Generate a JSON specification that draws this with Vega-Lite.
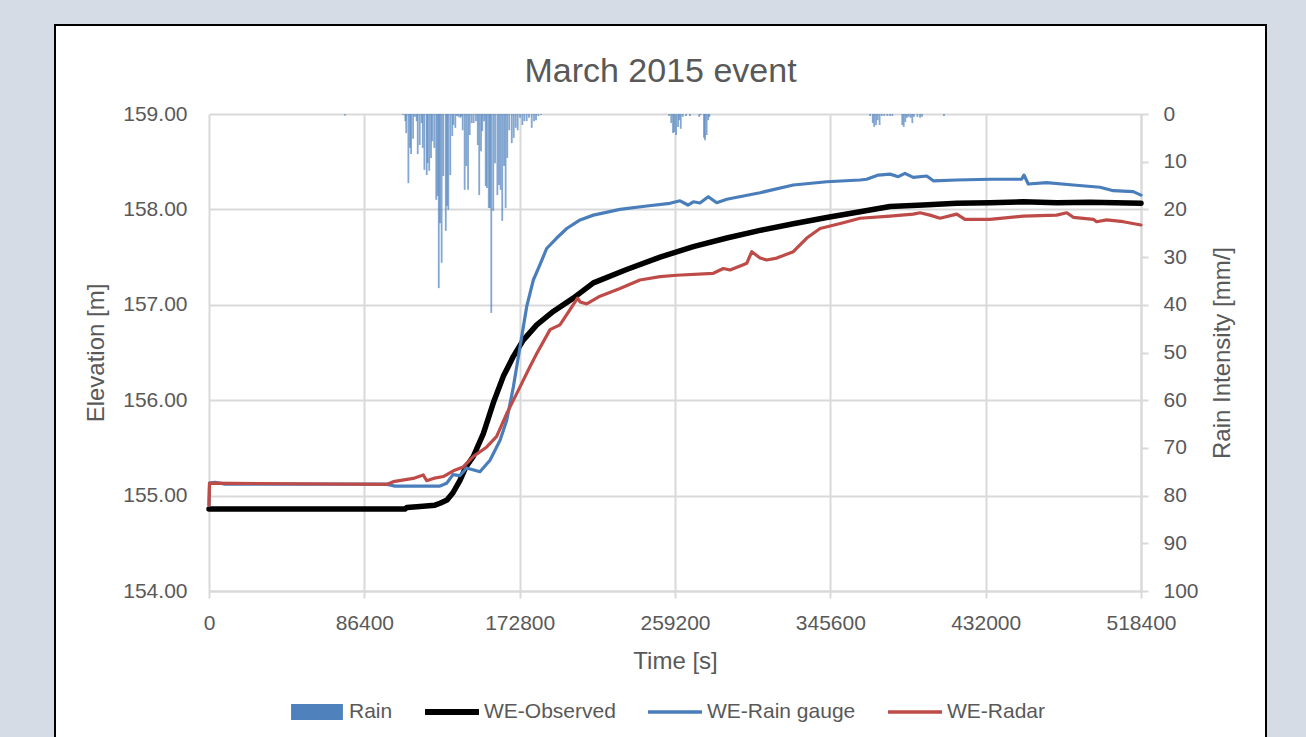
{
  "$schema": "https://vega.github.io/schema/vega-lite/v6.json",
  "width": 1211,
  "height": 712,
  "autosize": {"type": "none"},
  "padding": {"left": 55, "top": 25, "right": 40, "bottom": 0},
  "background": "#D6DCE5",
  "title": {"text": "March 2015 event", "fontSize": 34, "fontWeight": "normal", "color": "#595959", "font": "Liberation Sans", "anchor": "middle", "baseline": "alphabetic", "offset": -91, "frame": "group"},
  "datasets": {
    "lines": [
      {"t": 0, "elev": 154.86, "series": "WE-Observed"},
      {"t": 109000, "elev": 154.86, "series": "WE-Observed"},
      {"t": 110100, "elev": 154.875, "series": "WE-Observed"},
      {"t": 117400, "elev": 154.886, "series": "WE-Observed"},
      {"t": 125700, "elev": 154.9, "series": "WE-Observed"},
      {"t": 128500, "elev": 154.92, "series": "WE-Observed"},
      {"t": 132400, "elev": 154.954, "series": "WE-Observed"},
      {"t": 135700, "elev": 155.03, "series": "WE-Observed"},
      {"t": 139600, "elev": 155.16, "series": "WE-Observed"},
      {"t": 142900, "elev": 155.3, "series": "WE-Observed"},
      {"t": 147000, "elev": 155.41, "series": "WE-Observed"},
      {"t": 152600, "elev": 155.65, "series": "WE-Observed"},
      {"t": 158100, "elev": 155.97, "series": "WE-Observed"},
      {"t": 163700, "elev": 156.25, "series": "WE-Observed"},
      {"t": 169300, "elev": 156.46, "series": "WE-Observed"},
      {"t": 174800, "elev": 156.63, "series": "WE-Observed"},
      {"t": 182300, "elev": 156.79, "series": "WE-Observed"},
      {"t": 191500, "elev": 156.93, "series": "WE-Observed"},
      {"t": 202600, "elev": 157.07, "series": "WE-Observed"},
      {"t": 213800, "elev": 157.23, "series": "WE-Observed"},
      {"t": 232300, "elev": 157.37, "series": "WE-Observed"},
      {"t": 250900, "elev": 157.5, "series": "WE-Observed"},
      {"t": 269400, "elev": 157.61, "series": "WE-Observed"},
      {"t": 288000, "elev": 157.7, "series": "WE-Observed"},
      {"t": 306500, "elev": 157.78, "series": "WE-Observed"},
      {"t": 325000, "elev": 157.85, "series": "WE-Observed"},
      {"t": 343600, "elev": 157.915, "series": "WE-Observed"},
      {"t": 362100, "elev": 157.975, "series": "WE-Observed"},
      {"t": 378800, "elev": 158.03, "series": "WE-Observed"},
      {"t": 397300, "elev": 158.046, "series": "WE-Observed"},
      {"t": 415900, "elev": 158.064, "series": "WE-Observed"},
      {"t": 434400, "elev": 158.07, "series": "WE-Observed"},
      {"t": 452800, "elev": 158.08, "series": "WE-Observed"},
      {"t": 471700, "elev": 158.07, "series": "WE-Observed"},
      {"t": 490000, "elev": 158.074, "series": "WE-Observed"},
      {"t": 518400, "elev": 158.064, "series": "WE-Observed"},

      {"t": 0, "elev": 154.9, "series": "WE-Rain gauge"},
      {"t": 300, "elev": 155.13, "series": "WE-Rain gauge"},
      {"t": 3300, "elev": 155.14, "series": "WE-Rain gauge"},
      {"t": 8900, "elev": 155.12, "series": "WE-Rain gauge"},
      {"t": 30000, "elev": 155.12, "series": "WE-Rain gauge"},
      {"t": 98500, "elev": 155.12, "series": "WE-Rain gauge"},
      {"t": 103500, "elev": 155.1, "series": "WE-Rain gauge"},
      {"t": 128500, "elev": 155.1, "series": "WE-Rain gauge"},
      {"t": 132200, "elev": 155.13, "series": "WE-Rain gauge"},
      {"t": 135700, "elev": 155.22, "series": "WE-Rain gauge"},
      {"t": 139600, "elev": 155.21, "series": "WE-Rain gauge"},
      {"t": 143300, "elev": 155.29, "series": "WE-Rain gauge"},
      {"t": 150700, "elev": 155.25, "series": "WE-Rain gauge"},
      {"t": 156300, "elev": 155.37, "series": "WE-Rain gauge"},
      {"t": 161900, "elev": 155.58, "series": "WE-Rain gauge"},
      {"t": 165600, "elev": 155.79, "series": "WE-Rain gauge"},
      {"t": 169300, "elev": 156.14, "series": "WE-Rain gauge"},
      {"t": 173000, "elev": 156.56, "series": "WE-Rain gauge"},
      {"t": 176700, "elev": 156.98, "series": "WE-Rain gauge"},
      {"t": 180400, "elev": 157.26, "series": "WE-Rain gauge"},
      {"t": 184100, "elev": 157.42, "series": "WE-Rain gauge"},
      {"t": 187800, "elev": 157.59, "series": "WE-Rain gauge"},
      {"t": 193400, "elev": 157.7, "series": "WE-Rain gauge"},
      {"t": 199000, "elev": 157.8, "series": "WE-Rain gauge"},
      {"t": 206400, "elev": 157.89, "series": "WE-Rain gauge"},
      {"t": 213800, "elev": 157.94, "series": "WE-Rain gauge"},
      {"t": 228600, "elev": 158.0, "series": "WE-Rain gauge"},
      {"t": 243500, "elev": 158.036, "series": "WE-Rain gauge"},
      {"t": 256400, "elev": 158.064, "series": "WE-Rain gauge"},
      {"t": 262000, "elev": 158.09, "series": "WE-Rain gauge"},
      {"t": 266400, "elev": 158.046, "series": "WE-Rain gauge"},
      {"t": 269400, "elev": 158.08, "series": "WE-Rain gauge"},
      {"t": 273100, "elev": 158.067, "series": "WE-Rain gauge"},
      {"t": 277700, "elev": 158.133, "series": "WE-Rain gauge"},
      {"t": 282400, "elev": 158.07, "series": "WE-Rain gauge"},
      {"t": 288000, "elev": 158.106, "series": "WE-Rain gauge"},
      {"t": 306500, "elev": 158.175, "series": "WE-Rain gauge"},
      {"t": 325000, "elev": 158.256, "series": "WE-Rain gauge"},
      {"t": 343600, "elev": 158.29, "series": "WE-Rain gauge"},
      {"t": 362100, "elev": 158.308, "series": "WE-Rain gauge"},
      {"t": 365800, "elev": 158.316, "series": "WE-Rain gauge"},
      {"t": 372300, "elev": 158.36, "series": "WE-Rain gauge"},
      {"t": 378800, "elev": 158.37, "series": "WE-Rain gauge"},
      {"t": 383400, "elev": 158.343, "series": "WE-Rain gauge"},
      {"t": 387100, "elev": 158.378, "series": "WE-Rain gauge"},
      {"t": 391700, "elev": 158.336, "series": "WE-Rain gauge"},
      {"t": 399200, "elev": 158.35, "series": "WE-Rain gauge"},
      {"t": 402900, "elev": 158.3, "series": "WE-Rain gauge"},
      {"t": 415900, "elev": 158.308, "series": "WE-Rain gauge"},
      {"t": 434400, "elev": 158.316, "series": "WE-Rain gauge"},
      {"t": 452000, "elev": 158.316, "series": "WE-Rain gauge"},
      {"t": 453300, "elev": 158.36, "series": "WE-Rain gauge"},
      {"t": 455700, "elev": 158.266, "series": "WE-Rain gauge"},
      {"t": 465900, "elev": 158.28, "series": "WE-Rain gauge"},
      {"t": 480700, "elev": 158.256, "series": "WE-Rain gauge"},
      {"t": 495600, "elev": 158.232, "series": "WE-Rain gauge"},
      {"t": 503000, "elev": 158.196, "series": "WE-Rain gauge"},
      {"t": 514100, "elev": 158.186, "series": "WE-Rain gauge"},
      {"t": 518400, "elev": 158.15, "series": "WE-Rain gauge"},

      {"t": 0, "elev": 154.9, "series": "WE-Radar"},
      {"t": 300, "elev": 155.13, "series": "WE-Radar"},
      {"t": 98800, "elev": 155.117, "series": "WE-Radar"},
      {"t": 102500, "elev": 155.146, "series": "WE-Radar"},
      {"t": 113600, "elev": 155.18, "series": "WE-Radar"},
      {"t": 119200, "elev": 155.216, "series": "WE-Radar"},
      {"t": 121100, "elev": 155.156, "series": "WE-Radar"},
      {"t": 124800, "elev": 155.18, "series": "WE-Radar"},
      {"t": 130300, "elev": 155.2, "series": "WE-Radar"},
      {"t": 135900, "elev": 155.26, "series": "WE-Radar"},
      {"t": 141400, "elev": 155.3, "series": "WE-Radar"},
      {"t": 147000, "elev": 155.41, "series": "WE-Radar"},
      {"t": 154500, "elev": 155.51, "series": "WE-Radar"},
      {"t": 160000, "elev": 155.62, "series": "WE-Radar"},
      {"t": 165600, "elev": 155.86, "series": "WE-Radar"},
      {"t": 173000, "elev": 156.14, "series": "WE-Radar"},
      {"t": 178500, "elev": 156.35, "series": "WE-Radar"},
      {"t": 182300, "elev": 156.49, "series": "WE-Radar"},
      {"t": 189700, "elev": 156.74, "series": "WE-Radar"},
      {"t": 195200, "elev": 156.79, "series": "WE-Radar"},
      {"t": 200800, "elev": 156.95, "series": "WE-Radar"},
      {"t": 205000, "elev": 157.07, "series": "WE-Radar"},
      {"t": 206400, "elev": 157.03, "series": "WE-Radar"},
      {"t": 210100, "elev": 157.01, "series": "WE-Radar"},
      {"t": 217500, "elev": 157.09, "series": "WE-Radar"},
      {"t": 228600, "elev": 157.17, "series": "WE-Radar"},
      {"t": 239700, "elev": 157.26, "series": "WE-Radar"},
      {"t": 250900, "elev": 157.295, "series": "WE-Radar"},
      {"t": 260100, "elev": 157.31, "series": "WE-Radar"},
      {"t": 280500, "elev": 157.33, "series": "WE-Radar"},
      {"t": 286100, "elev": 157.38, "series": "WE-Radar"},
      {"t": 289800, "elev": 157.365, "series": "WE-Radar"},
      {"t": 297200, "elev": 157.42, "series": "WE-Radar"},
      {"t": 299100, "elev": 157.435, "series": "WE-Radar"},
      {"t": 301900, "elev": 157.557, "series": "WE-Radar"},
      {"t": 306500, "elev": 157.49, "series": "WE-Radar"},
      {"t": 310200, "elev": 157.47, "series": "WE-Radar"},
      {"t": 315800, "elev": 157.49, "series": "WE-Radar"},
      {"t": 325000, "elev": 157.557, "series": "WE-Radar"},
      {"t": 332500, "elev": 157.7, "series": "WE-Radar"},
      {"t": 339900, "elev": 157.8, "series": "WE-Radar"},
      {"t": 352800, "elev": 157.86, "series": "WE-Radar"},
      {"t": 362100, "elev": 157.907, "series": "WE-Radar"},
      {"t": 378800, "elev": 157.93, "series": "WE-Radar"},
      {"t": 391700, "elev": 157.95, "series": "WE-Radar"},
      {"t": 395500, "elev": 157.965, "series": "WE-Radar"},
      {"t": 401000, "elev": 157.94, "series": "WE-Radar"},
      {"t": 406600, "elev": 157.907, "series": "WE-Radar"},
      {"t": 415900, "elev": 157.95, "series": "WE-Radar"},
      {"t": 420500, "elev": 157.896, "series": "WE-Radar"},
      {"t": 434400, "elev": 157.896, "series": "WE-Radar"},
      {"t": 452900, "elev": 157.93, "series": "WE-Radar"},
      {"t": 471500, "elev": 157.94, "series": "WE-Radar"},
      {"t": 477100, "elev": 157.965, "series": "WE-Radar"},
      {"t": 480700, "elev": 157.917, "series": "WE-Radar"},
      {"t": 491900, "elev": 157.896, "series": "WE-Radar"},
      {"t": 493700, "elev": 157.871, "series": "WE-Radar"},
      {"t": 499300, "elev": 157.89, "series": "WE-Radar"},
      {"t": 508500, "elev": 157.871, "series": "WE-Radar"},
      {"t": 518400, "elev": 157.837, "series": "WE-Radar"}
    ],
    "rain": [
      {"t": 75600, "rain": 0.3},
      {"t": 108000, "rain": 0.2}, {"t": 109200, "rain": 1.5}, {"t": 109700, "rain": 4.0}, {"t": 110900, "rain": 14.5},
      {"t": 111800, "rain": 7.1}, {"t": 112400, "rain": 8.4}, {"t": 113500, "rain": 5.2}, {"t": 114500, "rain": 0.6},
      {"t": 115500, "rain": 1.5}, {"t": 116100, "rain": 8.4}, {"t": 117200, "rain": 6.5}, {"t": 118300, "rain": 1.9},
      {"t": 118900, "rain": 7.1}, {"t": 119800, "rain": 11.7}, {"t": 121100, "rain": 12.8}, {"t": 121600, "rain": 10.3},
      {"t": 122500, "rain": 11.9}, {"t": 123500, "rain": 9.2}, {"t": 124200, "rain": 5.7}, {"t": 125300, "rain": 7.1},
      {"t": 126400, "rain": 18.0}, {"t": 127200, "rain": 17.2}, {"t": 127800, "rain": 36.5}, {"t": 128500, "rain": 22.9},
      {"t": 129400, "rain": 31.2}, {"t": 130300, "rain": 13.0}, {"t": 131700, "rain": 24.5}, {"t": 132400, "rain": 19.3},
      {"t": 133100, "rain": 20.1}, {"t": 134200, "rain": 12.8}, {"t": 135300, "rain": 4.6}, {"t": 135900, "rain": 2.3},
      {"t": 137000, "rain": 2.9}, {"t": 137900, "rain": 0.4}, {"t": 138800, "rain": 0.6}, {"t": 139800, "rain": 0.8},
      {"t": 140400, "rain": 0.5}, {"t": 141100, "rain": 3.4}, {"t": 142200, "rain": 15.9}, {"t": 143100, "rain": 10.9},
      {"t": 144100, "rain": 15.9}, {"t": 145000, "rain": 4.4}, {"t": 146100, "rain": 1.9}, {"t": 147200, "rain": 1.9},
      {"t": 148500, "rain": 1.5}, {"t": 149500, "rain": 6.5}, {"t": 150300, "rain": 17.0}, {"t": 151300, "rain": 7.8},
      {"t": 152000, "rain": 3.6}, {"t": 153000, "rain": 1.5}, {"t": 153900, "rain": 15.1}, {"t": 154600, "rain": 15.5},
      {"t": 155600, "rain": 19.7}, {"t": 156300, "rain": 19.7}, {"t": 157000, "rain": 41.7}, {"t": 158100, "rain": 20.3},
      {"t": 159100, "rain": 10.3}, {"t": 160400, "rain": 17.0}, {"t": 161300, "rain": 14.9}, {"t": 162200, "rain": 15.9},
      {"t": 163100, "rain": 22.4}, {"t": 164100, "rain": 10.9}, {"t": 165000, "rain": 19.7}, {"t": 165900, "rain": 9.2},
      {"t": 167000, "rain": 3.4}, {"t": 168400, "rain": 6.1}, {"t": 169500, "rain": 5.0}, {"t": 170600, "rain": 2.9},
      {"t": 171700, "rain": 3.4}, {"t": 173000, "rain": 0.8}, {"t": 174300, "rain": 2.3}, {"t": 175400, "rain": 1.5},
      {"t": 176700, "rain": 1.5}, {"t": 178000, "rain": 0.8}, {"t": 179500, "rain": 2.9}, {"t": 180800, "rain": 1.5},
      {"t": 181900, "rain": 1.3}, {"t": 183200, "rain": 0.4}, {"t": 184700, "rain": 0.2},
      {"t": 256000, "rain": 0.4}, {"t": 257100, "rain": 1.9}, {"t": 258100, "rain": 4.0}, {"t": 258800, "rain": 3.8},
      {"t": 259800, "rain": 4.4}, {"t": 260900, "rain": 2.7}, {"t": 261600, "rain": 1.3}, {"t": 262400, "rain": 3.1},
      {"t": 263500, "rain": 0.6}, {"t": 265300, "rain": 0.4}, {"t": 267500, "rain": 0.4}, {"t": 272700, "rain": 0.6},
      {"t": 273500, "rain": 0.2}, {"t": 275300, "rain": 5.0}, {"t": 275900, "rain": 5.5}, {"t": 276800, "rain": 4.4},
      {"t": 277700, "rain": 1.3}, {"t": 278300, "rain": 0.6},
      {"t": 367700, "rain": 0.4}, {"t": 369200, "rain": 1.9}, {"t": 370000, "rain": 2.7}, {"t": 371000, "rain": 2.3},
      {"t": 371900, "rain": 1.3}, {"t": 373000, "rain": 2.3}, {"t": 374200, "rain": 0.4}, {"t": 375600, "rain": 0.4},
      {"t": 377300, "rain": 0.4}, {"t": 378800, "rain": 0.4}, {"t": 380100, "rain": 0.4}, {"t": 385600, "rain": 2.3},
      {"t": 386400, "rain": 2.7}, {"t": 387300, "rain": 1.7}, {"t": 388200, "rain": 0.8}, {"t": 389200, "rain": 0.6},
      {"t": 390300, "rain": 0.8}, {"t": 391200, "rain": 1.9}, {"t": 392100, "rain": 0.6}, {"t": 394000, "rain": 0.6},
      {"t": 395500, "rain": 0.8}, {"t": 396600, "rain": 0.6}, {"t": 408800, "rain": 0.4}
    ]
  },
  "layer": [
    {
      "data": {"name": "lines"},
      "layer": [
        {
          "transform": [{"filter": "datum.series === 'WE-Observed'"}],
          "mark": {"type": "line", "strokeWidth": 5.5, "strokeJoin": "round", "strokeCap": "round"},
          "encoding": {
            "x": {
              "field": "t", "type": "quantitative",
              "scale": {"domain": [0, 518400], "range": [154, 1086], "nice": false, "zero": false, "padding": 0},
              "axis": {
                "orient": "bottom",
                "values": [0, 86400, 172800, 259200, 345600, 432000, 518400],
                "format": "d", "title": "Time [s]", "offset": -146,
                "grid": false, "domain": true, "ticks": true, "tickSize": 7,
                "labelPadding": 14, "labelFlush": false,
                "titleX": 620, "titleY": 70, "titleAlign": "center", "titleBaseline": "middle"
              }
            },
            "y": {
              "field": "elev", "type": "quantitative",
              "scale": {"domain": [154, 159], "range": [566, 89], "nice": false, "zero": false},
              "axis": {
                "orient": "left", "values": [154, 155, 156, 157, 158, 159], "format": ".2f",
                "title": "Elevation [m]", "offset": -154, "grid": true, "domain": false,
                "ticks": false, "tickSize": 0, "labelPadding": 22, "labelFlush": false,
                "titleX": -113, "titleY": 327.5, "titleAngle": -90, "titleAlign": "center", "titleBaseline": "middle"
              }
            },
            "color": {
              "field": "series", "type": "nominal",
              "scale": {"domain": ["Rain", "WE-Observed", "WE-Rain gauge", "WE-Radar"], "range": ["#4F81BD", "#000000", "#4A7EBB", "#BE4B48"]},
              "legend": {
                "orient": "none", "legendX": 235, "legendY": 660, "direction": "horizontal", "title": null,
                "padding": 0, "labelFont": "Liberation Sans", "labelFontSize": 21, "labelColor": "#595959",
                "labelLimit": 400, "symbolSize": 2916, "symbolStrokeWidth": 0, "columnPadding": 32, "labelOffset": 5,
                "encode": {
                  "symbols": {
                    "update": {
                      "size": {"value": 2916},
                      "shape": {"signal": "(datum.value === 'Rain' ? 'M-0.96,-0.3H0.96V0.3H-0.96Z' : (datum.value === 'WE-Observed' ? 'M-1,-0.11H1V0.11H-1Z' : 'M-1,-0.065H1V0.065H-1Z'))"},
                      "strokeWidth": {"value": 0},
                      "fill": {"signal": "(datum.value === 'Rain' ? '#4F81BD' : (datum.value === 'WE-Observed' ? '#000000' : (datum.value === 'WE-Rain gauge' ? '#4A7EBB' : '#BE4B48')))"},
                      "fillOpacity": {"value": 1},
                      "stroke": {"value": "transparent"},
                      "opacity": {"value": 1}
                    }
                  }
                }
              }
            }
          }
        },
        {
          "transform": [{"filter": "datum.series === 'WE-Rain gauge'"}],
          "mark": {"type": "line", "strokeWidth": 3.2, "strokeJoin": "round", "strokeCap": "round"},
          "encoding": {
            "x": {"field": "t", "type": "quantitative"},
            "y": {"field": "elev", "type": "quantitative"},
            "color": {"field": "series", "type": "nominal"}
          }
        },
        {
          "transform": [{"filter": "datum.series === 'WE-Radar'"}],
          "mark": {"type": "line", "strokeWidth": 3.2, "strokeJoin": "round", "strokeCap": "round"},
          "encoding": {
            "x": {"field": "t", "type": "quantitative"},
            "y": {"field": "elev", "type": "quantitative"},
            "color": {"field": "series", "type": "nominal"}
          }
        }
      ]
    },
    {
      "data": {"name": "rain"},
      "mark": {"type": "bar", "width": 1.8, "opacity": 0.7},
      "encoding": {
        "x": {
          "field": "t", "type": "quantitative",
          "axis": {"orient": "top", "values": [0, 86400, 172800, 259200, 345600, 432000, 518400], "grid": true, "labels": false, "ticks": false, "domain": false, "title": null}
        },
        "y": {
          "field": "rain", "type": "quantitative",
          "scale": {"domain": [0, 100], "range": [89, 566], "nice": false},
          "axis": {
            "orient": "right", "values": [0, 10, 20, 30, 40, 50, 60, 70, 80, 90, 100],
            "title": "Rain Intensity [mm/]", "offset": -125, "grid": false, "domain": true,
            "ticks": true, "tickSize": 7, "labelPadding": 15, "labelFlush": false,
            "titleX": 81, "titleY": 327.5, "titleAngle": -90, "titleAlign": "center", "titleBaseline": "middle"
          }
        },
        "color": {"datum": "Rain", "type": "nominal"}
      }
    }
  ],
  "resolve": {"scale": {"y": "independent"}, "axis": {"y": "independent", "x": "independent"}},
  "config": {
    "font": "Liberation Sans",
    "view": {"fill": "#FFFFFF", "stroke": "#000000", "strokeWidth": 2, "strokeDash": [1923, 1211, 712]},
    "axis": {
      "labelFont": "Liberation Sans", "labelFontSize": 21, "labelColor": "#595959",
      "titleFont": "Liberation Sans", "titleFontSize": 24, "titleFontWeight": "normal", "titleColor": "#595959",
      "gridColor": "#D9D9D9", "gridWidth": 2, "domainColor": "#D9D9D9", "domainWidth": 2,
      "tickColor": "#D9D9D9", "tickWidth": 2
    }
  }
}
